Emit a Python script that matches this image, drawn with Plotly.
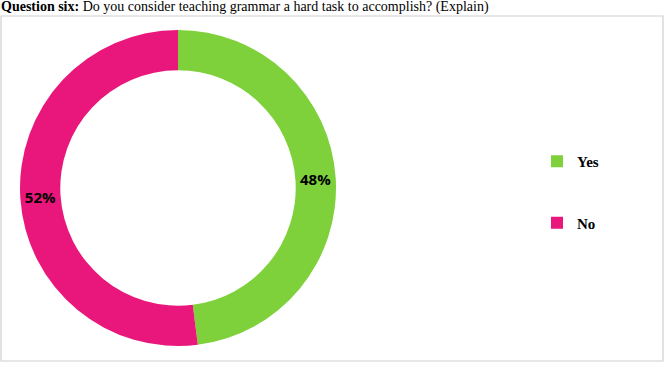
import plotly.graph_objects as go

labels = ["Yes", "No"]
values = [48, 52]
colors = ["#7fd13b", "#e9177b"]
legend_labels = ["Yes<br> <br> ", "No<br> <br> "]

W, H = 669, 365

def px(x):
    return x / W

def py(y):
    return 1 - y / H

fig = go.Figure()
fig.add_trace(go.Pie(
    labels=legend_labels,
    values=values,
    sort=False,
    direction="clockwise",
    rotation=0,
    hole=0.745,
    marker=dict(colors=colors, line=dict(width=0)),
    texttemplate="%{percent:.0%}",
    textposition="inside",
    insidetextorientation="horizontal",
    textfont=dict(family="Open Sans", size=15, color="#000000", weight="bold"),
    domain=dict(x=[px(20), px(336)], y=[py(346), py(30)]),
    hoverinfo="skip",
))

fig.update_layout(
    width=W, height=H,
    margin=dict(l=0, r=0, t=0, b=0),
    paper_bgcolor="white",
    plot_bgcolor="white",
    showlegend=True,
    legend=dict(
        x=px(537), y=py(145), xanchor="left", yanchor="top",
        font=dict(family="Liberation Serif", size=15, color="#000000", weight="bold"),
        valign="top",
        bgcolor="rgba(0,0,0,0)",
        itemclick=False,
    ),
    shapes=[dict(type="rect", xref="paper", yref="paper",
                 x0=px(1), x1=px(663), y0=py(16), y1=py(361),
                 line=dict(color="#d0d0d0", width=1.2), layer="below")],
    annotations=[dict(
        text="<b>Question six:</b> Do you consider teaching grammar a hard task to accomplish? (Explain)",
        xref="paper", yref="paper", x=px(-1), y=py(7), xanchor="left", yanchor="middle",
        showarrow=False, font=dict(family="Liberation Serif", size=14, color="#000000"),
    )],
)

fig.write_html("out.html")
